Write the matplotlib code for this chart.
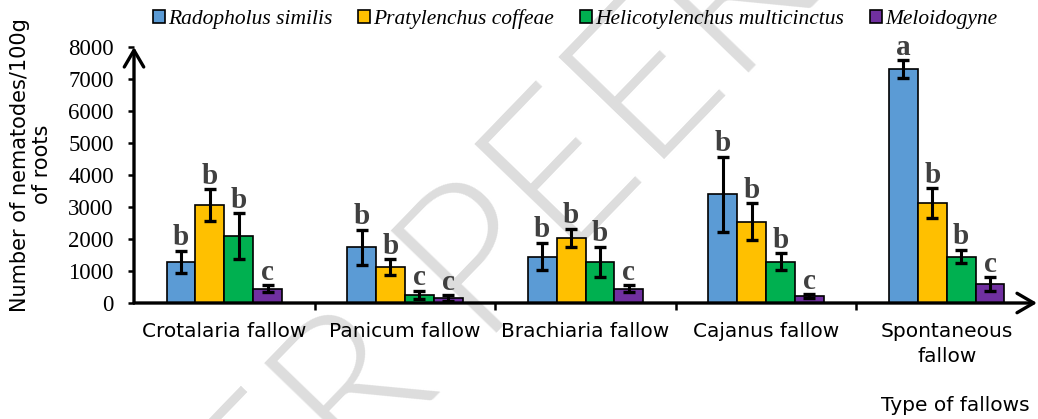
import numpy as np
import matplotlib
matplotlib.use("Agg")
from matplotlib import pyplot as plt
from matplotlib.patches import Patch

# data
fallows = ["Crotalaria fallow", "Panicum fallow", "Brachiaria fallow",
           "Cajanus fallow", "Spontaneous\nfallow"]
species = ["Radopholus similis", "Pratylenchus coffeae",
           "Helicotylenchus multicinctus", "Meloidogyne"]
radopholus = [1290, 1740, 1450, 3400, 7310]
radopholus_err = [350, 550, 430, 1170, 280]
pratylenchus = [3060, 1115, 2030, 2540, 3115]
pratylenchus_err = [500, 250, 290, 580, 470]
helicotylenchus = [2080, 260, 1290, 1290, 1450]
helicotylenchus_err = [720, 130, 470, 260, 210]
meloidogyne = [450, 150, 440, 210, 590]
meloidogyne_err = [110, 90, 110, 60, 210]
letters = [["b", "b", "b", "b", "a"],
           ["b", "b", "b", "b", "b"],
           ["b", "c", "b", "b", "b"],
           ["c", "c", "c", "c", "c"]]

values = [radopholus, pratylenchus, helicotylenchus, meloidogyne]
errors = [radopholus_err, pratylenchus_err, helicotylenchus_err, meloidogyne_err]
colors = ["#5B9BD5", "#FFC000", "#00B050", "#7030A0"]

fig = plt.figure(figsize=(10.38, 4.19), dpi=100)
ax = fig.add_axes([134/1038, 116/419, 903/1038, 256/419])
ax.set_facecolor("none")

# watermark behind everything
fig.text(630/1038, 1 - 112/419, "UNDER PEER REVIEW", fontsize=150,
         family="Lato", fontweight=300, color="#dddddd", rotation=46,
         rotation_mode="anchor", ha="center", va="center", zorder=-5)

x = np.arange(len(fallows))
w = 0.16
for i in range(4):
    xs = x + (i - 1.5) * w
    ax.bar(xs, values[i], w, color=colors[i], edgecolor="black", linewidth=1.2, zorder=2)
    ax.errorbar(xs, values[i], yerr=errors[i], fmt="none", ecolor="black",
                elinewidth=2.2, capsize=4.5, capthick=2.4, zorder=3)
    for j in range(len(fallows)):
        ax.annotate(letters[i][j], (xs[j], values[i][j] + errors[i][j]),
                    xytext=(0, 4), textcoords="offset points",
                    ha="center", va="baseline", fontsize=21, fontweight="bold",
                    family="Liberation Serif", color="#404040", zorder=4)

ax.set_xlim(-0.5, 4.5)
ax.set_ylim(0, 8000)
ax.set_yticks(np.arange(0, 8001, 1000))
ax.tick_params(axis="y", direction="out", length=4.5, width=1.8, pad=10,
               labelsize=16.5)
for t in ax.get_yticklabels():
    t.set_family("Liberation Serif")

ax.set_xticks(x)
ax.set_xticklabels(fallows, fontsize=14.5, family="DejaVu Sans", linespacing=1.4)
ax.tick_params(axis="x", which="major", length=0, pad=14)
ax.set_xticks(x[:-1] + 0.5, minor=True)
ax.tick_params(axis="x", which="minor", direction="out", length=5, width=1.8)

for s in ax.spines.values():
    s.set_visible(False)
arrow = dict(arrowstyle="->,head_length=0.6,head_width=0.35", lw=2.4, color="black",
             shrinkA=0, shrinkB=0, mutation_scale=20)
ax.annotate("", xy=(0, 1.0), xytext=(0, 0), xycoords="axes fraction", arrowprops=arrow)
ax.annotate("", xy=(1.0, 0), xytext=(0, 0), xycoords="axes fraction", arrowprops=arrow)

ax.set_ylabel("Number of nematodes/100g\nof roots", fontsize=15,
              family="DejaVu Sans", linespacing=1.1)
ax.yaxis.set_label_coords(-0.091, 0.54)

fig.text(1030/1038, 1 - 405/419, "Type of fallows", fontsize=14.5,
         family="DejaVu Sans", ha="right", va="center")

handles = [Patch(facecolor=c, edgecolor="black", linewidth=1.2) for c in colors]
leg = fig.legend(handles, species, loc="center", bbox_to_anchor=(575/1038, 1 - 19/419),
                 ncol=4, frameon=False, handlelength=0.55, handleheight=0.55,
                 handletextpad=0.15, columnspacing=1.2, borderpad=0,
                 prop=dict(family="Liberation Serif", style="italic", size=15.5))

fig.savefig("out.png", dpi=100)
